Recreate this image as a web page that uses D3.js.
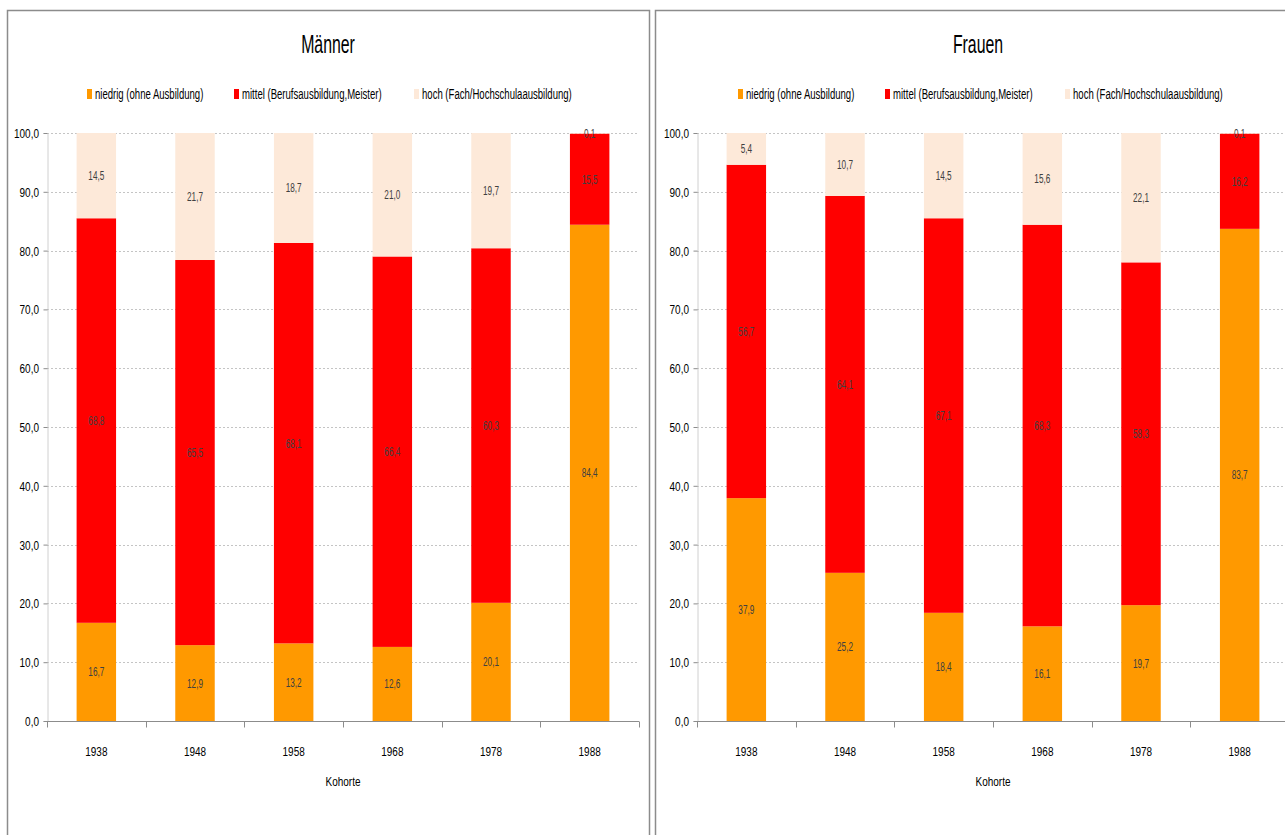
<!DOCTYPE html>
<html>
<head>
<meta charset="utf-8">
<script src="https://cdn.jsdelivr.net/npm/d3@7"></script>
<style>
  html, body { margin: 0; padding: 0; background: #fff; }
  svg { display: block; font-family: "Liberation Sans", Arial, sans-serif; }
</style>
</head>
<body>
<svg id="chart" width="1285" height="835"></svg>
<script>
// ---- data ----
const cohorts = ["1938", "1948", "1958", "1968", "1978", "1988"];
const seriesNames = ["niedrig (ohne Ausbildung)", "mittel (Berufsausbildung,Meister)", "hoch (Fach/Hochschulaausbildung)"];
const seriesColors = ["#FF9900", "#FF0000", "#FDE9D9"];
const yTicks = [0, 10, 20, 30, 40, 50, 60, 70, 80, 90, 100];

const maennerNiedrig = [16.7, 12.9, 13.2, 12.6, 20.1, 84.4];
const maennerMittel  = [68.8, 65.5, 68.1, 66.4, 60.3, 15.5];
const maennerHoch    = [14.5, 21.7, 18.7, 21.0, 19.7, 0.1];

const frauenNiedrig = [37.9, 25.2, 18.4, 16.1, 19.7, 83.7];
const frauenMittel  = [56.7, 64.1, 67.1, 68.3, 58.3, 16.2];
const frauenHoch    = [5.4, 10.7, 14.5, 15.6, 22.1, 0.1];

const panels = [
  { title: "Männer", series: [maennerNiedrig, maennerMittel, maennerHoch],
    frame: [7, 10, 642], plot: [47, 639], legendX: [87, 234, 414], titleX: 328 },
  { title: "Frauen", series: [frauenNiedrig, frauenMittel, frauenHoch],
    frame: [655, 10, 700], plot: [697, 1289], legendX: [738, 885, 1065], titleX: 978 }
];

const svg = d3.select("#chart");
const fmt = v => d3.format(".1f")(v).replace(".", ",");
const yTop = 133, yBottom = 721;

// condensed text helper (reference font is a narrow Calibri-like face)
function ctext(g, x, y, str, size, sx, anchor, fill) {
  return g.append("text")
    .attr("transform", `translate(${x},${y}) scale(${sx},1)`)
    .attr("text-anchor", anchor || "start")
    .attr("font-size", size)
    .attr("fill", fill || "#000")
    .text(str);
}

panels.forEach((p, pi) => {
  const g = svg.append("g");
  // frame
  g.append("rect")
    .attr("x", p.frame[0] + 0.5).attr("y", p.frame[1] + 0.5)
    .attr("width", p.frame[2]).attr("height", 900)
    .attr("fill", "#fff").attr("stroke", "#8c8c8c").attr("stroke-width", 1.5);

  const x = d3.scaleBand().domain(cohorts).range(p.plot).paddingInner(0.6).paddingOuter(0.3);
  const y = d3.scaleLinear().domain([0, 100]).range([yBottom, yTop]);

  const clipId = "clip" + pi;
  g.append("clipPath").attr("id", clipId).append("rect")
    .attr("x", p.plot[0]).attr("y", yTop).attr("width", p.plot[1] - p.plot[0]).attr("height", yBottom - yTop);

  // gridlines
  g.append("g").selectAll("line").data(yTicks.filter(t => t > 0)).join("line")
    .attr("x1", p.plot[0]).attr("x2", Math.min(p.plot[1], 1285))
    .attr("y1", d => Math.round(y(d)) + 0.5).attr("y2", d => Math.round(y(d)) + 0.5)
    .attr("stroke", "#c4c4c4").attr("stroke-width", 1).attr("stroke-dasharray", "2,2");

  // stack
  const rows = cohorts.map((c, i) => ({ cohort: c, s0: p.series[0][i], s1: p.series[1][i], s2: p.series[2][i] }));
  const stacked = d3.stack().keys(["s0", "s1", "s2"])(rows);

  const barsG = g.append("g").attr("clip-path", `url(#${clipId})`);
  stacked.forEach((layer, li) => {
    barsG.append("g").selectAll("rect").data(layer).join("rect")
      .attr("x", d => x(d.data.cohort))
      .attr("width", x.bandwidth())
      .attr("y", d => y(Math.min(d[1], 100)))
      .attr("height", d => y(d[0]) - y(Math.min(d[1], 100)))
      .attr("fill", seriesColors[li]);
  });

  // data labels
  stacked.forEach((layer) => {
    const lg = g.append("g");
    layer.forEach(d => {
      ctext(lg, x(d.data.cohort) + x.bandwidth() / 2, y((d[0] + Math.min(d[1], 100)) / 2) + 4.5,
        fmt(d[1] - d[0]), 13, 0.63, "middle", "#404040");
    });
  });

  // y axis
  const yAxis = d3.axisLeft(y).tickValues(yTicks).tickSize(4).tickFormat(() => "");
  const ya = g.append("g").attr("transform", `translate(${p.plot[0] + 0.5},0)`).call(yAxis);
  ya.select(".domain").attr("stroke", "#d0d0d0");
  ya.selectAll(".tick line").attr("stroke", "#8c8c8c");
  ya.selectAll(".tick text").remove();
  yTicks.forEach(t => {
    ctext(g, p.plot[0] - 8, y(t) + 5, fmt(t), 13.5, 0.74, "end", "#000");
  });

  // x axis
  const xAxis = d3.axisBottom(x).tickSize(0).tickFormat(() => "");
  const xa = g.append("g").attr("transform", `translate(0,${yBottom + 0.5})`).call(xAxis);
  xa.select(".domain").remove();
  xa.selectAll(".tick text").remove();
  xa.append("line").attr("x1", p.plot[0]).attr("x2", p.plot[1]).attr("stroke", "#8c8c8c");
  const boundaries = d3.range(cohorts.length + 1).map(i => p.plot[0] + i * x.step());
  xa.selectAll(".btick").data(boundaries).join("line").attr("class", "btick")
    .attr("x1", d => Math.round(d) + 0.5).attr("x2", d => Math.round(d) + 0.5)
    .attr("y1", 0).attr("y2", 6).attr("stroke", "#8c8c8c");
  cohorts.forEach(c => {
    ctext(g, x(c) + x.bandwidth() / 2, 756, c, 13.5, 0.74, "middle", "#000");
  });

  // axis title
  ctext(g, (p.plot[0] + p.plot[1]) / 2, 786, "Kohorte", 13.5, 0.74, "middle", "#000");

  // title
  ctext(g, p.titleX, 53, p.title, 26, 0.61, "middle", "#000");

  // legend
  seriesNames.forEach((name, si) => {
    const lx = p.legendX[si];
    g.append("rect").attr("x", lx).attr("y", 89).attr("width", 5).attr("height", 10)
      .attr("fill", seriesColors[si]);
    ctext(g, lx + 8, 98.5, name, 14.5, 0.66, "start", "#000");
  });
});
</script>
</body>
</html>
